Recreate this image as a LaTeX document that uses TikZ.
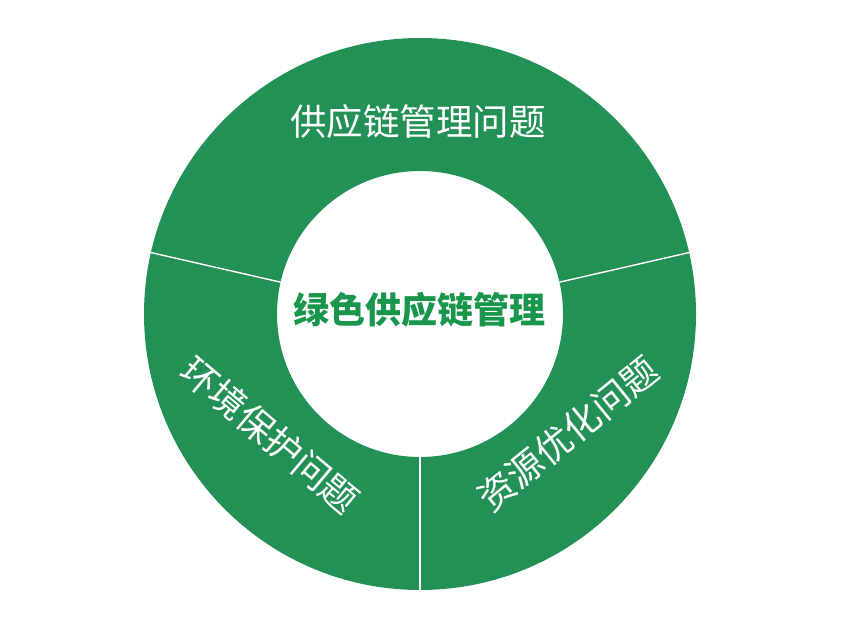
\documentclass[tikz,border=0pt]{standalone}
\usepackage{fontspec}
\usepackage{xcolor}
\usetikzlibrary{calc,positioning}
\newfontfamily\cjk{Noto Sans CJK SC}
\definecolor{ringgreen}{RGB}{35,145,85}
\definecolor{hubgreen}{RGB}{25,150,75}
\tikzset{%
	ring/.style     = {fill=ringgreen, even odd rule},
	divider/.style  = {draw=white, line width=1.4pt},
	ringlabel/.style= {text=white, font=\cjk\fontsize{36.5}{40}\selectfont, inner sep=0pt},
	hublabel/.style = {text=hubgreen, font=\cjk\bfseries\fontsize{36}{40}\selectfont, inner sep=0pt},
}
\begin{document}
\begin{tikzpicture}[x=1pt,y=1pt]
	\useasboundingbox (0,0) rectangle (858,629);
	\coordinate (c) at (420,315);  % centre of the ring
	
	\fill[ring] (c) circle (276) (c) circle (143);
	\foreach \a in {12.86,167.14,270}
		\draw[divider] ($(c)+(\a:143)$) -- ($(c)+(\a:276)$);
	
	\node[hublabel] (hub) at (419,319) {绿色供应链管理};
	\node[ringlabel] (supply) at (418,507) {供应链管理问题};
	\node[ringlabel, rotate=-40] (env) at (270,194) {环境保护问题};
	\node[ringlabel, rotate=39] (res) at (568,195) {资源优化问题};
\end{tikzpicture}
\end{document}
